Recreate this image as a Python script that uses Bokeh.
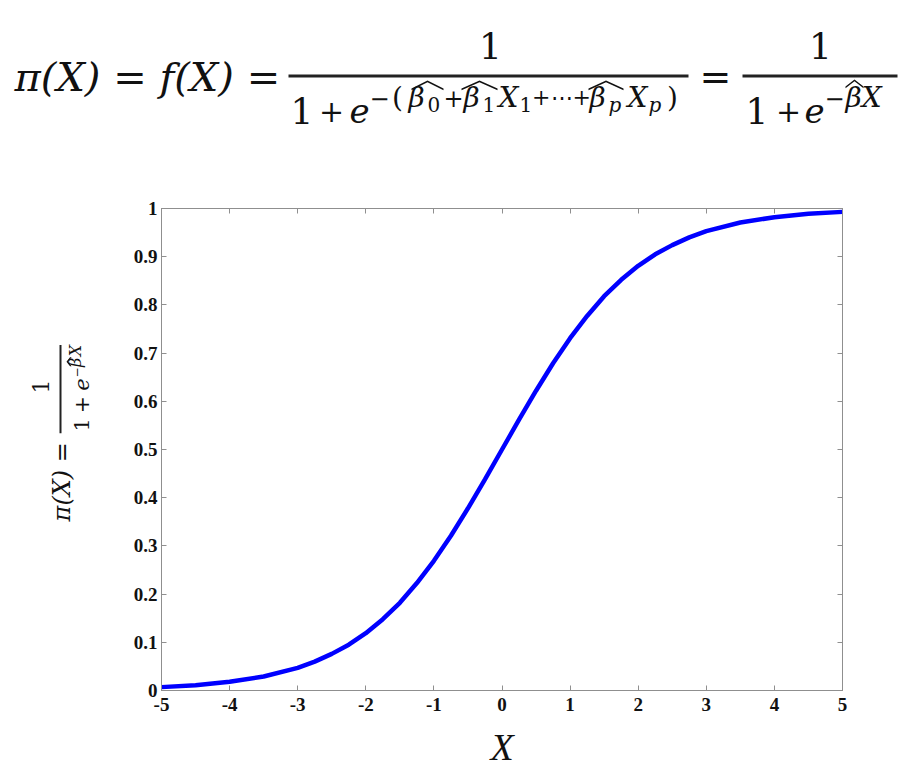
from math import pi
from bokeh.plotting import figure
from bokeh.layouts import column, row
from bokeh.models import Label, LinearAxis, FixedTicker, Range1d, BoxAnnotation, PolyAnnotation
from bokeh.embed import file_html
from bokeh.resources import INLINE

# ---- data ----
x_values = [-5.0, -4.5, -4.0, -3.5, -3.0, -2.75, -2.5, -2.25, -2.0, -1.75, -1.5, -1.25,
            -1.0, -0.75, -0.5, -0.25, 0.0, 0.25, 0.5, 0.75, 1.0, 1.25, 1.5, 1.75,
            2.0, 2.25, 2.5, 2.75, 3.0, 3.5, 4.0, 4.5, 5.0]
pi_values = [0.007, 0.011, 0.018, 0.029, 0.047, 0.060, 0.076, 0.095, 0.119, 0.148, 0.182, 0.223,
             0.269, 0.321, 0.378, 0.438, 0.500, 0.562, 0.622, 0.679, 0.731, 0.777, 0.818, 0.852,
             0.881, 0.905, 0.924, 0.940, 0.953, 0.971, 0.982, 0.989, 0.993]
x_ticks = [-5, -4, -3, -2, -1, 0, 1, 2, 3, 4, 5]
x_tick_labels = ["-5", "-4", "-3", "-2", "-1", "0", "1", "2", "3", "4", "5"]
y_ticks = [0, 0.1, 0.2, 0.3, 0.4, 0.5, 0.6, 0.7, 0.8, 0.9, 1]
y_tick_labels = ["0", "0.1", "0.2", "0.3", "0.4", "0.5", "0.6", "0.7", "0.8", "0.9", "1"]

PAGE_W = 905
TOP_H = 180          # formula strip height
LEFT_W = 110         # rotated y-label strip width
MAIN_H = 590
INK = "#111111"

def blank_fig(w, h, x0, x1, y0, y1):
    f = figure(width=w, height=h, x_range=Range1d(x0, x1), y_range=Range1d(y0, y1),
               output_backend="svg", toolbar_location=None,
               x_axis_location=None, y_axis_location=None,
               min_border_left=0, min_border_right=0, min_border_top=0, min_border_bottom=0)
    f.xgrid.grid_line_color = None
    f.ygrid.grid_line_color = None
    f.outline_line_color = None
    return f

def lab(f, text, x, y, size, align="left", style="normal", angle=0.0, font="DejaVu Serif"):
    f.add_layout(Label(x=x, y=y, text=text, text_font=font, text_font_size=f"{size}px",
                       text_align=align, text_baseline="middle", angle=angle,
                       text_font_style=style, text_color=INK))

def bar(f, x0, x1, y0, y1):
    f.add_layout(BoxAnnotation(left=x0, right=x1, top=y0, bottom=y1,
                               fill_color="#222222", fill_alpha=1.0, line_color=None))

def hat(f, x0, x1, yt, yb, t=1.8):
    xm = (x0 + x1) / 2.0
    f.add_layout(PolyAnnotation(xs=[x0, xm, x1, x1, xm, x0], ys=[yb, yt, yb, yb + t, yt + t, yb + t],
                                fill_color=INK, fill_alpha=1.0, line_color=None))

def hat_rot(f, y0, y1, xa, xb, t=1.6):
    ym = (y0 + y1) / 2.0
    f.add_layout(PolyAnnotation(xs=[xb, xa, xb, xb + t, xa + t, xb + t], ys=[y0, ym, y1, y1, ym, y0],
                                fill_color=INK, fill_alpha=1.0, line_color=None))

# ---- formula strip (page pixel coordinates, y downward) ----
top_fig = blank_fig(PAGE_W, TOP_H, 0, PAGE_W, TOP_H, 0)
lab(top_fig, "π(X) = f(X) =", 14, 76, 40, style="italic")
lab(top_fig, "1", 490, 45, 36, align="center")
bar(top_fig, 288, 688, 74, 77)
lab(top_fig, "1", 290, 110, 36)
lab(top_fig, "+", 331, 110, 30, align="center")
lab(top_fig, "e", 349, 110, 34, style="italic")
# exponent  −(β̂0 + β̂1 X1 + ⋯ + β̂p Xp)
EY, SY = 97, 104
lab(top_fig, "\u2212", 369, EY, 24)
lab(top_fig, "(", 397, EY, 28, align="center")
lab(top_fig, "β", 408, EY, 28, style="italic")
lab(top_fig, "0", 427, SY, 20)
hat(top_fig, 411, 443, 80, 88)
lab(top_fig, "+", 453, EY, 24, align="center")
lab(top_fig, "β", 463, EY, 28, style="italic")
lab(top_fig, "1", 482, SY, 20)
hat(top_fig, 461, 497, 80, 88)
lab(top_fig, "X", 498, EY, 28, style="italic")
lab(top_fig, "1", 519, SY, 20)
lab(top_fig, "+\u22ef+", 561, EY, 22, align="center")
lab(top_fig, "β", 589, EY, 28, style="italic")
lab(top_fig, "p", 608, SY, 20, style="italic")
hat(top_fig, 588, 623, 80, 88)
lab(top_fig, "X", 627, EY, 28, style="italic")
lab(top_fig, "p", 648, SY, 20, style="italic")
lab(top_fig, ")", 672, EY, 28, align="center")

lab(top_fig, "=", 715, 76, 38, align="center")
lab(top_fig, "1", 820, 45, 36, align="center")
bar(top_fig, 742, 897, 74, 77)
lab(top_fig, "1", 745, 110, 36)
lab(top_fig, "+", 788, 110, 30, align="center")
lab(top_fig, "e", 804, 110, 34, style="italic")
lab(top_fig, "\u2212", 824, EY, 24)
lab(top_fig, "βX", 845, EY, 28, style="italic")
hat(top_fig, 845, 863, 79, 86)

# ---- rotated y-axis label strip (page pixel coordinates) ----
y0_page = TOP_H
left_fig = blank_fig(LEFT_W, MAIN_H, 0, LEFT_W, y0_page + MAIN_H, y0_page)
lab(left_fig, "π(X) =", 61, 563, 24, style="italic", angle=pi / 2)
bar(left_fig, 59, 61, 347, 455)
lab(left_fig, "1", 40, 398, 22, align="center", angle=pi / 2)
lab(left_fig, "1", 81, 453, 21, angle=pi / 2)
lab(left_fig, "+", 81, 420, 20, align="center", angle=pi / 2)
lab(left_fig, "e", 81, 403, 21, style="italic", angle=pi / 2)
lab(left_fig, "\u2212", 75, 387, 12, angle=pi / 2)
lab(left_fig, "β", 75, 374, 16, style="italic", angle=pi / 2)
lab(left_fig, "X", 75, 361, 16, style="italic", angle=pi / 2)
hat_rot(left_fig, 373, 362, 66, 69.5)

# ---- main chart ----
FRAME_L, FRAME_R, FRAME_T, FRAME_B = 161, 842, 208, 693   # page pixels
main_w = PAGE_W - LEFT_W
p = figure(width=main_w, height=MAIN_H, x_range=Range1d(-5, 5), y_range=Range1d(0, 1),
           output_backend="svg", toolbar_location=None,
           min_border_left=FRAME_L - LEFT_W, min_border_right=PAGE_W - FRAME_R,
           min_border_top=FRAME_T - TOP_H, min_border_bottom=TOP_H + MAIN_H - FRAME_B)
p.xgrid.grid_line_color = None
p.ygrid.grid_line_color = None
p.outline_line_color = "#8f8f8f"

p.line(x_values, pi_values, line_color="#0000ff", line_width=4.5)

AX = "#8f8f8f"
def style_axis(ax, ticks, labels, show, standoff=4):
    ax.ticker = FixedTicker(ticks=ticks)
    ax.major_label_overrides = {t: l for t, l in zip(ticks, labels)}
    ax.major_tick_in = 5
    ax.major_tick_out = 0
    ax.minor_tick_line_color = None
    ax.axis_line_color = AX
    ax.major_tick_line_color = AX
    ax.major_label_text_font = "Liberation Serif"
    ax.major_label_text_font_style = "bold"
    ax.major_label_text_font_size = "19px"
    ax.major_label_text_color = INK if show else None
    ax.major_label_standoff = standoff

style_axis(p.xaxis[0], x_ticks, x_tick_labels, True, standoff=7)
style_axis(p.yaxis[0], y_ticks, y_tick_labels, True)
p.xaxis[0].axis_label = "X"
p.xaxis[0].axis_label_text_font = "Liberation Serif"
p.xaxis[0].axis_label_text_font_style = "italic"
p.xaxis[0].axis_label_text_font_size = "38px"
p.xaxis[0].axis_label_text_color = INK
p.xaxis[0].axis_label_standoff = 12

top = LinearAxis()
right = LinearAxis()
style_axis(top, x_ticks, x_tick_labels, False)
style_axis(right, y_ticks, y_tick_labels, False)
p.add_layout(top, "above")
p.add_layout(right, "right")

layout = column(top_fig, row(left_fig, p))
open("out.html", "w").write(file_html(layout, INLINE))
